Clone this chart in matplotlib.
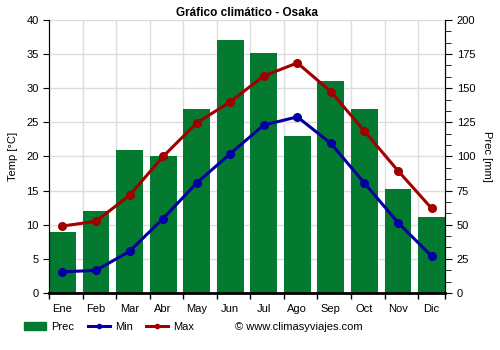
import numpy as np
import matplotlib.pyplot as plt
from matplotlib.ticker import MultipleLocator, AutoMinorLocator
from matplotlib.lines import Line2D
from matplotlib.patches import Patch

plt.rcParams['font.family'] = ['Liberation Sans', 'DejaVu Sans']

meses = ['Ene', 'Feb', 'Mar', 'Abr', 'May', 'Jun', 'Jul', 'Ago', 'Sep', 'Oct', 'Nov', 'Dic']
prec = [45, 60, 105, 100, 135, 185, 176, 115, 155, 135, 76, 56]
t_min = [3.1, 3.3, 6.1, 10.9, 16.1, 20.4, 24.6, 25.8, 21.9, 16.1, 10.3, 5.4]
t_max = [9.8, 10.5, 14.3, 20.0, 24.9, 28.0, 31.8, 33.7, 29.5, 23.7, 17.9, 12.4]

verde = '#037a2f'
azul = '#0000a0'
rojo = '#a00000'

x = np.arange(len(meses))

fig = plt.figure(figsize=(5, 3.5), dpi=100)
ax = fig.add_axes([0.098, 0.163, 0.792, 0.78])
ax2 = ax.twinx()

# barras de precipitacion en el eje derecho, detras de las temperaturas
ax.set_zorder(2)
ax.patch.set_visible(False)
ax2.set_zorder(1)

ax2.bar(x, prec, width=0.8, color=verde, zorder=2)
ax2.set_ylim(0, 200)
ax2.yaxis.set_major_locator(MultipleLocator(25))
ax2.yaxis.set_minor_locator(AutoMinorLocator(3))
ax2.set_ylabel('Prec [mm]', rotation=270, labelpad=12, fontsize=8)

ax.plot(x, t_min, color=azul, lw=2.2, marker='o', ms=5.5, zorder=3)
ax.plot(x, t_max, color=rojo, lw=2.2, marker='o', ms=5.5, zorder=3)
ax.set_ylim(0, 40)
ax.set_xlim(-0.4, 11.4)
ax.yaxis.set_major_locator(MultipleLocator(5))
ax.set_ylabel('Temp [°C]', fontsize=8, labelpad=6)

# rejilla: horizontales cada 5 grados, verticales en el borde de cada mes
for y in np.arange(5, 41, 5):
    ax2.axhline(y * 5, color='#dddddd', lw=1, zorder=0)
for b in x[1:] - 0.4:
    ax2.axvline(b, color='#dddddd', lw=1, zorder=0)

ax.set_xticks(x)
ax.set_xticklabels(meses)
ax.set_xticks(np.append(x - 0.4, 11.4), minor=True)
ax.tick_params(axis='x', which='major', length=0, labelsize=8, pad=8)
ax.tick_params(axis='x', which='minor', length=4, width=1)
ax.tick_params(axis='y', labelsize=8, length=4)
ax2.tick_params(axis='y', which='major', labelsize=8, length=5)
ax2.tick_params(axis='y', which='minor', length=4)

for a in (ax, ax2):
    a.spines['top'].set_visible(False)
ax.spines['bottom'].set_linewidth(2)
ax2.spines['bottom'].set_visible(False)

ax.set_title('Gráfico climático - Osaka', fontsize=8.5, fontweight='bold', pad=3)

handles = [Patch(color=verde, label='Prec'),
           Line2D([], [], color=azul, lw=2.2, marker='o', ms=3, label='Min'),
           Line2D([], [], color=rojo, lw=2.2, marker='o', ms=3, label='Max')]
fig.legend(handles=handles, loc='center left', bbox_to_anchor=(0.048, 0.066), ncol=3,
           frameon=False, fontsize=8, handlelength=2.0, handleheight=0.7,
           columnspacing=1.2, handletextpad=0.45, borderpad=0, borderaxespad=0)
fig.text(0.47, 0.066, '© www.climasyviajes.com', fontsize=8, va='center')

fig.savefig('out.png', dpi=100)
